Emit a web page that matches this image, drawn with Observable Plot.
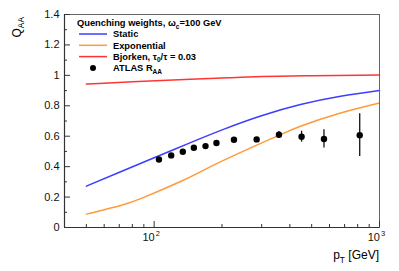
<!DOCTYPE html>
<html>
<head>
<meta charset="utf-8">
<script src="https://cdn.jsdelivr.net/npm/d3@7"></script>
<script src="https://cdn.jsdelivr.net/npm/@observablehq/plot@0.6"></script>
<style>
  html, body { margin: 0; padding: 0; background: #fff; }
  svg { display: block; }
</style>
</head>
<body>
<div id="chart"></div>
<script>
// ---- data ----
const staticPt = [50, 71, 94, 118, 145, 203, 297, 446, 672, 1000];
const staticQ  = [0.272, 0.366, 0.442, 0.503, 0.558, 0.645, 0.733, 0.808, 0.862, 0.9];
const expPt = [50, 71, 90, 131, 161, 203, 297, 357, 446, 672, 1000];
const expQ  = [0.088, 0.145, 0.198, 0.302, 0.367, 0.441, 0.553, 0.605, 0.665, 0.752, 0.818];
const bjPt = [50, 80, 145, 220, 300, 500, 1000];
const bjQ  = [0.943, 0.958, 0.975, 0.985, 0.992, 0.998, 1.002];
const atlasPt  = [105, 119, 134, 150, 169, 189, 226, 285, 358, 451, 567, 817];
const atlasR   = [0.447, 0.474, 0.498, 0.524, 0.535, 0.555, 0.577, 0.579, 0.61, 0.597, 0.582, 0.607];
const atlasErr = [0.005, 0.005, 0.005, 0.005, 0.005, 0.006, 0.008, 0.012, 0.021, 0.036, 0.06, 0.14];

const yTicks = [0, 0.2, 0.4, 0.6, 0.8, 1, 1.2, 1.4];
const yTickLabels = ["0", "0.2", "0.4", "0.6", "0.8", "1", "1.2", "1.4"];
const yMinor = [0.1, 0.3, 0.5, 0.7, 0.9, 1.1, 1.3];
const xMajor = [100, 1000];
const xMajorExp = ["2", "3"];
const xMinor = [50, 60, 70, 80, 90, 200, 300, 400, 500, 600, 700, 800, 900];

// ---- tables ----
const zip = (xs, ys) => xs.map((x, i) => ({x, y: ys[i]}));
const staticData = zip(staticPt, staticQ);
const expData = zip(expPt, expQ);
const bjData = zip(bjPt, bjQ);
const atlas = atlasPt.map((x, i) => ({x, y: atlasR[i], e: atlasErr[i]}));
const yAxis = yTicks.map((v, i) => ({v, label: yTickLabels[i]}));
const xAxis = xMajor.map((v, i) => ({v, sup: xMajorExp[i]}));

const FONT = "'Liberation Sans', Arial, Helvetica, sans-serif";
const W = 399, H = 271, ML = 64, MR = 20, MT = 14, MB = 44;
const FW = W - ML - MR, FH = H - MT - MB;

const BLUE = "#3d3dff", ORANGE = "#ff9a3a", RED = "#ff3535";

const chart = Plot.plot({
  width: W, height: H,
  marginLeft: ML, marginRight: MR, marginTop: MT, marginBottom: MB,
  style: {fontFamily: FONT, background: "#fff", color: "#000", overflow: "visible"},
  x: {type: "log", domain: [40, 1000], axis: null},
  y: {domain: [0, 1.4], axis: null},
  marks: [
    // curves
    Plot.line(staticData, {x: "x", y: "y", stroke: BLUE, strokeWidth: 1.5, curve: "natural"}),
    Plot.line(expData, {x: "x", y: "y", stroke: ORANGE, strokeWidth: 1.5, curve: "natural"}),
    Plot.line(bjData, {x: "x", y: "y", stroke: RED, strokeWidth: 1.5, curve: "monotone-x"}),
    // ATLAS data
    Plot.ruleX(atlas, {x: "x", y1: d => d.y - d.e, y2: d => d.y + d.e, stroke: "#111", strokeWidth: 1.3}),
    Plot.dot(atlas, {x: "x", y: "y", r: 3.2, fill: "#000", stroke: "none"}),
    // frame
    Plot.frame({stroke: "#666", strokeWidth: 1}),
    Plot.ruleX([40], {stroke: "#333", strokeWidth: 1.2}),
    Plot.ruleY([0], {stroke: "#333", strokeWidth: 1.2}),
    // y ticks (inward)
    Plot.tickY(yTicks, {y: d => d, insetRight: FW - 6, stroke: "#333"}),
    Plot.tickY(yMinor, {y: d => d, insetRight: FW - 3, stroke: "#333"}),
    // x ticks (inward)
    Plot.tickX(xMajor, {x: d => d, insetTop: FH - 6, stroke: "#333"}),
    Plot.tickX(xMinor, {x: d => d, insetTop: FH - 3, stroke: "#333"}),
    // y tick labels
    Plot.text(yAxis, {y: "v", text: "label", frameAnchor: "left", textAnchor: "end", dx: -5,
      fontSize: 11, fill: "#111"}),
    // x tick labels 10^n
    Plot.text(xAxis, {x: "v", text: () => "10", frameAnchor: "bottom", textAnchor: "end",
      dx: 0.5, dy: 13, fontSize: 11, fill: "#111"}),
    Plot.text(xAxis, {x: "v", text: "sup", frameAnchor: "bottom", textAnchor: "start",
      dx: 1.5, dy: 8, fontSize: 7.5, fill: "#111"})
  ]
});

document.getElementById("chart").appendChild(chart);

// ---- titles and legend (text with sub/superscripts) ----
const svg = d3.select(chart);
const g = svg.append("g").attr("font-family", FONT).attr("fill", "#000");

function richText(parent, x, y, parts, opts = {}) {
  const t = parent.append("text").attr("x", x).attr("y", y)
    .attr("font-size", opts.size || 12)
    .attr("font-weight", opts.weight || "normal")
    .attr("text-anchor", opts.anchor || "start");
  if (opts.transform) t.attr("transform", opts.transform).attr("x", 0).attr("y", 0);
  let shift = 0;
  for (const p of parts) {
    const s = t.append("tspan").text(p.t);
    const target = p.sub ? (opts.subShift || 3) : 0;
    if (target !== shift) { s.attr("dy", target - shift); shift = target; }
    if (p.sub) s.attr("font-size", (opts.size || 12) * 0.7);
  }
  return t;
}

// y axis title Q_AA (rotated)
richText(g, 0, 0, [{t: "Q"}, {t: "AA", sub: true}],
  {size: 12, anchor: "end", transform: "translate(21,17) rotate(-90)", subShift: 3});

// x axis title p_T [GeV]
richText(g, 379, 259, [{t: "p"}, {t: "T", sub: true}, {t: " [GeV]"}],
  {size: 12, anchor: "end", subShift: 3.5});

// legend
const LS = 9.3;
richText(g, 77, 26, [{t: "Quenching weights, \u03c9"}, {t: "c", sub: true}, {t: "=100 GeV"}],
  {size: LS, weight: "bold", subShift: 2.5});

const rows = [
  {y: 34, kind: "line", color: BLUE, parts: [{t: "Static"}]},
  {y: 45.3, kind: "line", color: ORANGE, parts: [{t: "Exponential"}]},
  {y: 56.6, kind: "line", color: RED, parts: [{t: "Bjorken, \u03c4"}, {t: "0", sub: true}, {t: "/\u03c4 = 0.03"}]},
  {y: 68, kind: "dot", parts: [{t: "ATLAS R"}, {t: "AA", sub: true}]}
];
for (const r of rows) {
  if (r.kind === "line") {
    g.append("line").attr("x1", 79).attr("x2", 107).attr("y1", r.y).attr("y2", r.y)
      .attr("stroke", r.color).attr("stroke-width", 1.5);
  } else {
    g.append("circle").attr("cx", 93).attr("cy", r.y).attr("r", 3).attr("fill", "#000");
  }
  richText(g, 113, r.y + 3.3, r.parts, {size: LS, weight: "bold", subShift: 2.5});
}
</script>
</body>
</html>
